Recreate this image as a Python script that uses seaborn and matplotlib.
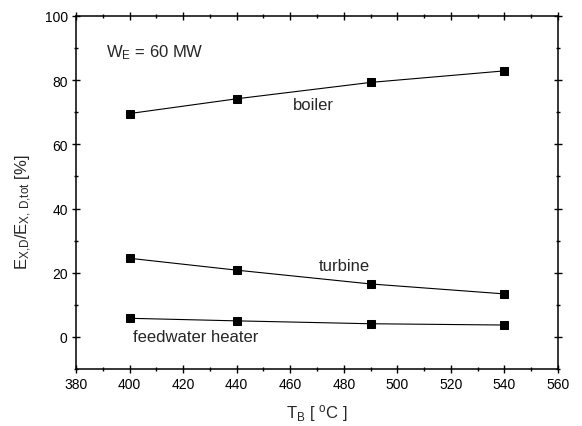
import matplotlib
matplotlib.use("Agg")
import matplotlib.pyplot as plt
import seaborn as sns
import pandas as pd
from matplotlib.ticker import MultipleLocator

temps = [400, 440, 490, 540]
boiler = [69.6, 74.2, 79.3, 82.9]
turbine = [24.5, 20.8, 16.5, 13.4]
feedwater = [5.8, 5.0, 4.1, 3.7]
components = ["boiler", "turbine", "feedwater heater"]

df = pd.DataFrame({
    "T": temps * 3,
    "val": boiler + turbine + feedwater,
    "comp": [c for c in components for _ in temps],
})

sns.set_theme(style="ticks")
plt.rcParams['font.family'] = ['Liberation Sans', 'DejaVu Sans']
plt.rcParams['mathtext.fontset'] = 'custom'
plt.rcParams['mathtext.rm'] = 'Liberation Sans'
plt.rcParams['mathtext.it'] = 'Liberation Sans'

fig = plt.figure(figsize=(5.82, 4.27), dpi=100)
ax = fig.add_axes([0.1306, 0.1335, 0.8282, 0.8267])

sns.lineplot(data=df, x="T", y="val", hue="comp", palette=["black"] * 3,
             marker="s", markersize=5.5, markeredgecolor="black",
             linewidth=0.8, legend=False, ax=ax, sort=False)

ax.set_xlim(380, 560)
ax.set_ylim(-10, 100)
ax.xaxis.set_major_locator(MultipleLocator(20))
ax.xaxis.set_minor_locator(MultipleLocator(10))
ax.yaxis.set_major_locator(MultipleLocator(20))
ax.yaxis.set_minor_locator(MultipleLocator(10))
ax.tick_params(which="both", direction="inout", top=True, right=True,
               labeltop=False, labelright=False, labelsize=10, colors="black",
               width=1.0)
ax.tick_params(which="major", length=6, pad=3)
ax.tick_params(which="minor", length=3)
for s in ax.spines.values():
    s.set_visible(True)
    s.set_linewidth(1.1)
    s.set_color("black")

ax.set_xlabel(r"$\mathregular{T_B\ [\ ^oC\ ]}$", fontsize=12, labelpad=8)
ax.set_ylabel(r"$\mathregular{E_{X{,}D}/E_{X{,}\ D{,}tot}\ [\%]}$", fontsize=12)
ax.yaxis.set_label_coords(-0.087, 0.448)

ax.text(391.2, 87.5, r"$\mathregular{W_E}$ = 60 MW", fontsize=12)
ax.text(460.9, 71.0, "boiler", fontsize=12)
ax.text(470.5, 20.9, "turbine", fontsize=12)
ax.text(401.2, -1.2, "feedwater heater", fontsize=12)

fig.savefig("out.png", dpi=100)
